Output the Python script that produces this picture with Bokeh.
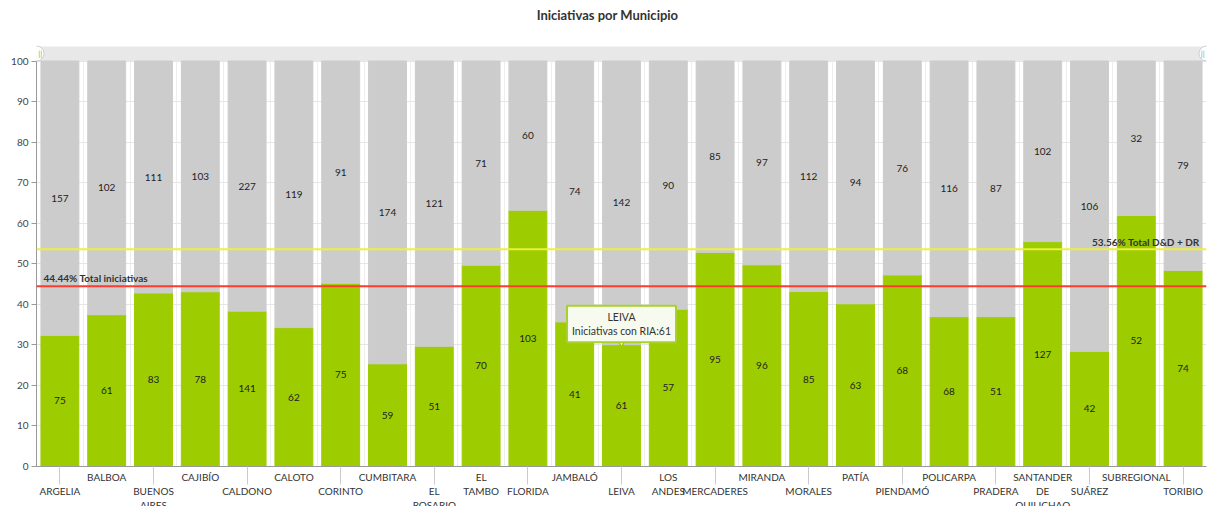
from bokeh.plotting import figure
from bokeh.models import Range1d, LinearAxis, FixedTicker, Span, Label, ColumnDataSource
from bokeh.core.properties import value
from bokeh.embed import file_html
from bokeh.resources import INLINE

# ---- data ----
municipios = ["ARGELIA", "BALBOA", "BUENOS AIRES", "CAJIBÍO", "CALDONO", "CALOTO", "CORINTO",
              "CUMBITARA", "EL ROSARIO", "EL TAMBO", "FLORIDA", "JAMBALÓ", "LEIVA", "LOS ANDES",
              "MERCADERES", "MIRANDA", "MORALES", "PATÍA", "PIENDAMÓ", "POLICARPA", "PRADERA",
              "SANTANDER DE QUILICHAO", "SUÁREZ", "SUBREGIONAL", "TORIBIO"]
tick_labels = ["ARGELIA", "BALBOA", "BUENOS\nAIRES", "CAJIBÍO", "CALDONO", "CALOTO", "CORINTO",
               "CUMBITARA", "EL\nROSARIO", "EL\nTAMBO", "FLORIDA", "JAMBALÓ", "LEIVA", "LOS\nANDES",
               "MERCADERES", "MIRANDA", "MORALES", "PATÍA", "PIENDAMÓ", "POLICARPA", "PRADERA",
               "SANTANDER\nDE\nQUILICHAO", "SUÁREZ", "SUBREGIONAL", "TORIBIO"]
con_ria = [75, 61, 83, 78, 141, 62, 75, 59, 51, 70, 103, 41, 61, 57, 95, 96, 85, 63, 68, 68, 51, 127, 42, 52, 74]
sin_ria = [157, 102, 111, 103, 227, 119, 91, 174, 121, 71, 60, 74, 142, 90, 85, 97, 112, 94, 76, 116, 87, 102, 106, 32, 79]
y_ticks = [0, 10, 20, 30, 40, 50, 60, 70, 80, 90, 100]
linea_total = 44.44
linea_total_label = "44.44% Total iniciativas"
linea_dd = 53.56
linea_dd_label = "53.56% Total D&D + DR"
tooltip_mun = "LEIVA"
tooltip_text = "LEIVA\nIniciativas con RIA:61"
title = "Iniciativas por Municipio"

FONT = "Lato"
GREEN = "#9dcc00"
GREY = "#cccccc"
PX = 4.055          # pixels per percent unit
FRAME_H = 466       # frame spans from the top of the page to the 0 line
N = len(municipios)
Y_TOP = FRAME_H / PX

xc = [i + 0.5 for i in range(N)]  # category centres on the index scale
pct = [c / (c + s) * 100 for c, s in zip(con_ria, sin_ria)]
src = ColumnDataSource(dict(
    x=xc, mun=municipios, pct=pct, g_mid=[v / 2 for v in pct], s_mid=[(v + 100) / 2 for v in pct],
    c=[str(v) for v in con_ria], s=[str(v) for v in sin_ria]))

p = figure(x_range=Range1d(0, N), y_range=Range1d(0, Y_TOP),
           frame_width=1170, frame_height=FRAME_H, min_border_left=36, min_border_right=6,
           min_border_top=0, min_border_bottom=40, x_axis_location=None,
           output_backend="svg", toolbar_location=None)
p.outline_line_color = None
p.background_fill_color = "white"

# title (drawn inside the top of the frame)
p.add_layout(Label(x=(607 - 36) / 46.8, y=(FRAME_H - 14) / PX, text=title, text_align="center",
                   text_baseline="middle", text_font=FONT, text_font_size="13px",
                   text_font_style="bold", text_color="#333333"))

# scroll band on top
p.quad(left=[0], right=[N], bottom=[100], top=[(FRAME_H - 46) / PX], fill_color="#e8e8e8",
       line_color=None)

# bars
p.vbar(x="x", top="pct", bottom=0, width=0.81, color=GREEN, source=src)
p.vbar(x="x", top=100, bottom="pct", width=0.81, color=GREY, source=src)

# value labels
p.text(x="x", y="g_mid", text="c", source=src, text_align="center", text_baseline="middle",
       text_font=value(FONT), text_font_size="10px", text_color="#222222")
p.text(x="x", y="s_mid", text="s", source=src, text_align="center", text_baseline="middle",
       text_font=value(FONT), text_font_size="10px", text_color="#222222")

# grids
p.ygrid.ticker = FixedTicker(ticks=y_ticks)
p.ygrid.grid_line_color = "#e6e6e6"
p.xgrid.ticker = FixedTicker(ticks=list(range(1, N)))
p.xgrid.grid_line_color = "#eeeeee"
p.xgrid.cross_bounds = (0, 100)

# y axis
ya = p.yaxis[0]
ya.ticker = FixedTicker(ticks=y_ticks)
ya.bounds = (0, 100)
ya.axis_line_color = "#999999"
ya.major_tick_line_color = "#999999"
ya.major_tick_in = 0
ya.major_tick_out = 5
ya.minor_tick_line_color = None
ya.major_label_standoff = 3
ya.major_label_text_font = FONT
ya.major_label_text_font_size = "10px"
ya.major_label_text_color = "#444444"

# x axis: labels at every category (staggered), long ticks only under the lower ones
xa = LinearAxis(ticker=FixedTicker(ticks=xc, minor_ticks=xc[0::2]))
xa.axis_line_color = "#999999"
xa.major_tick_line_color = None
xa.major_tick_in = 0
xa.major_tick_out = 0
xa.minor_tick_line_color = "#cccccc"
xa.minor_tick_in = 0
xa.minor_tick_out = 18
xa.major_label_standoff = -14
xa.major_label_text_font = FONT
xa.major_label_text_font_size = "10px"
xa.major_label_text_color = "#333333"
xa.major_label_overrides = {x: ("\n" + lab if i % 2 == 0 else lab)
                            for i, (x, lab) in enumerate(zip(xc, tick_labels))}
p.add_layout(xa, "below")

# reference lines
p.add_layout(Span(location=linea_total, dimension="width", line_color="#ff3b30", line_width=2))
p.add_layout(Span(location=linea_dd, dimension="width", line_color="#eef03c", line_width=2))
p.add_layout(Label(x=0.15, y=linea_total + 2.0, text=linea_total_label, text_align="left",
                   text_baseline="middle", text_font=FONT, text_font_size="10px",
                   text_font_style="bold", text_color="#333333"))
p.add_layout(Label(x=N - 0.15, y=linea_dd + 1.9, text=linea_dd_label, text_align="right",
                   text_baseline="middle", text_font=FONT, text_font_size="10px",
                   text_font_style="bold", text_color="#333333"))

# tooltip
ti = municipios.index(tooltip_mun)
p.scatter(x=[xc[ti]], y=[pct[ti] + 1.0], marker="inverted_triangle", size=11,
          fill_color="#f7fbef", line_color="#9dcc00", line_width=1.5)
p.add_layout(Label(x=xc[ti], y=(466 - 323.5) / PX, text=tooltip_text, text_align="center",
                   text_baseline="middle", text_font=FONT, text_font_size="10.5px",
                   text_color="#333333", background_fill_color="#f7fbef",
                   border_line_color="#a8d12a", border_line_width=2, padding=5))

# scroll handles
hy = (FRAME_H - 53) / PX
p.scatter(x=[0, N], y=[hy, hy], marker="circle", size=15,
          fill_color="white", line_color="#cccccc")
p.text(x=[0.08, N - 0.08], y=[hy, hy], text=["||", "||"], text_align="center",
       text_baseline="middle", text_font=value(FONT), text_font_size="8px", text_color="#999999")

open("out.html", "w").write(file_html(p, INLINE))
